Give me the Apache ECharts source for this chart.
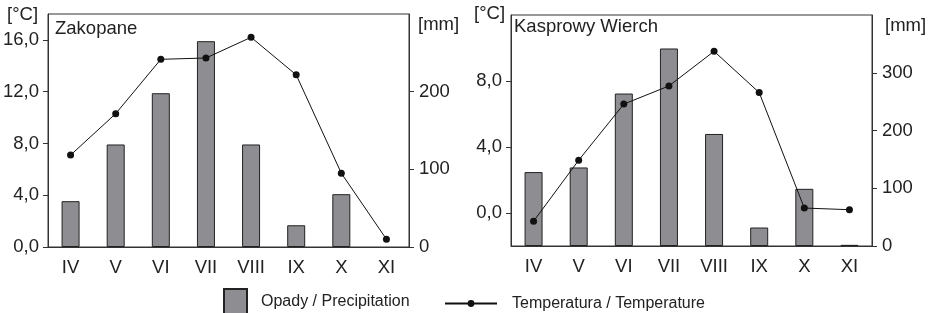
<!DOCTYPE html>
<html>
<head>
<meta charset="utf-8">
<script src="https://cdn.jsdelivr.net/npm/echarts@6/dist/echarts.min.js"></script>
<style>
  html, body { margin: 0; padding: 0; background: #fff; }
  #chart { width: 933px; height: 313px; }
</style>
</head>
<body>
<div id="chart"></div>
<script>
// months
var months = ['IV', 'V', 'VI', 'VII', 'VIII', 'IX', 'X', 'XI'];

// Zakopane
var zakPrecip = [59, 132, 198, 265, 132, 28, 68, null];
var zakTemp = [7.1, 10.3, 14.5, 14.6, 16.2, 13.3, 5.7, 0.6];

// Kasprowy Wierch
var kasPrecip = [128, 136, 264, 342, 194, 32, 99, 2];
var kasTemp = [-0.5, 3.2, 6.6, 7.7, 9.8, 7.3, 0.3, 0.2];

// axis ticks
var zakTempTicks = [0, 4, 8, 12, 16];
var zakMmTicks = [0, 100, 200];
var kasTempTicks = [0, 4, 8];
var kasMmTicks = [0, 100, 200, 300];

var PRECIP = 'Opady / Precipitation';
var TEMP = 'Temperatura / Temperature';

var FONT = '"Liberation Sans", Arial, sans-serif';
var INK = '#222';
var FRAME = '#333';

var fmtC = function(v){ return v.toFixed(1).replace('.', ','); };

var xAxisOf = function(gi){
	return {
		type: 'category', gridIndex: gi, data: months,
		axisLine: {onZero: false, lineStyle: {color: FRAME, width: 1}},
		axisTick: {show: false},
		axisLabel: {color: INK, fontSize: 18.5, fontFamily: FONT, margin: 11}
	};
};

var yAxisOf = function(gi, pos, min, max, ticks, fmt){
	return {
		type: 'value', gridIndex: gi, position: pos, min: min, max: max,
		splitLine: {show: false},
		axisLine: {show: true, lineStyle: {color: FRAME, width: 1}},
		axisTick: {show: true, length: 5, customValues: ticks, lineStyle: {color: FRAME}},
		axisLabel: {color: INK, fontSize: 18.5, fontFamily: FONT, margin: pos == 'left' ? 9 : 10,
			customValues: ticks, formatter: fmt}
	};
};

var barOf = function(gi, yi, data){
	return {
		name: PRECIP, type: 'bar', xAxisIndex: gi, yAxisIndex: yi, data: data,
		barWidth: 18, z: 2,
		itemStyle: {color: '#8e8e92', borderColor: '#222', borderWidth: 1}
	};
};

var lineOf = function(gi, yi, data){
	return {
		name: TEMP, type: 'line', xAxisIndex: gi, yAxisIndex: yi, data: data,
		symbol: 'circle', symbolSize: 7, z: 3,
		itemStyle: {color: '#111'},
		lineStyle: {color: '#111', width: 1}
	};
};

var textOf = function(txt, left, top){
	return {text: txt, left: left, top: top, padding: 0,
		textStyle: {color: INK, fontSize: 18.5, fontWeight: 'normal', fontFamily: FONT}};
};

var option = {
	animation: false,
	backgroundColor: '#fff',
	title: [
		textOf('Zakopane', 55, 19.5),
		textOf('[°C]', 7, 5.5),
		textOf('[mm]', 418, 15),
		textOf('Kasprowy Wierch', 514, 17),
		textOf('[°C]', 474, 4.5),
		textOf('[mm]', 885, 16)
	],
	grid: [
		{left: 46, top: 14, width: 363, height: 233, show: true, borderColor: FRAME, borderWidth: 1},
		{left: 511, top: 15, width: 361, height: 231, show: true, borderColor: FRAME, borderWidth: 1}
	],
	xAxis: [xAxisOf(0), xAxisOf(1)],
	yAxis: [
		yAxisOf(0, 'left', 0, 18, zakTempTicks, fmtC),
		yAxisOf(0, 'right', 0, 300, zakMmTicks),
		yAxisOf(1, 'left', -2, 12, kasTempTicks, fmtC),
		yAxisOf(1, 'right', 0, 400, kasMmTicks)
	],
	legend: [
		{data: [{name: PRECIP, icon: 'rect'}], left: 223, top: 288, padding: 0,
			itemWidth: 23, itemHeight: 26, selectedMode: false,
			textStyle: {color: INK, fontSize: 16, fontFamily: FONT, padding: [0, 0, 0, 9]}},
		{data: [TEMP], left: 444, top: 295.5, padding: 0,
			itemWidth: 52, itemHeight: 8.5, selectedMode: false,
			textStyle: {color: INK, fontSize: 16, fontFamily: FONT, padding: [0, 0, 0, 10]}}
	],
	series: [
		barOf(0, 1, zakPrecip),
		lineOf(0, 0, zakTemp),
		barOf(1, 3, kasPrecip),
		lineOf(1, 2, kasTemp)
	]
};

var chart = echarts.init(document.getElementById('chart'), null, {renderer: 'canvas'});
chart.setOption(option);
</script>
</body>
</html>
